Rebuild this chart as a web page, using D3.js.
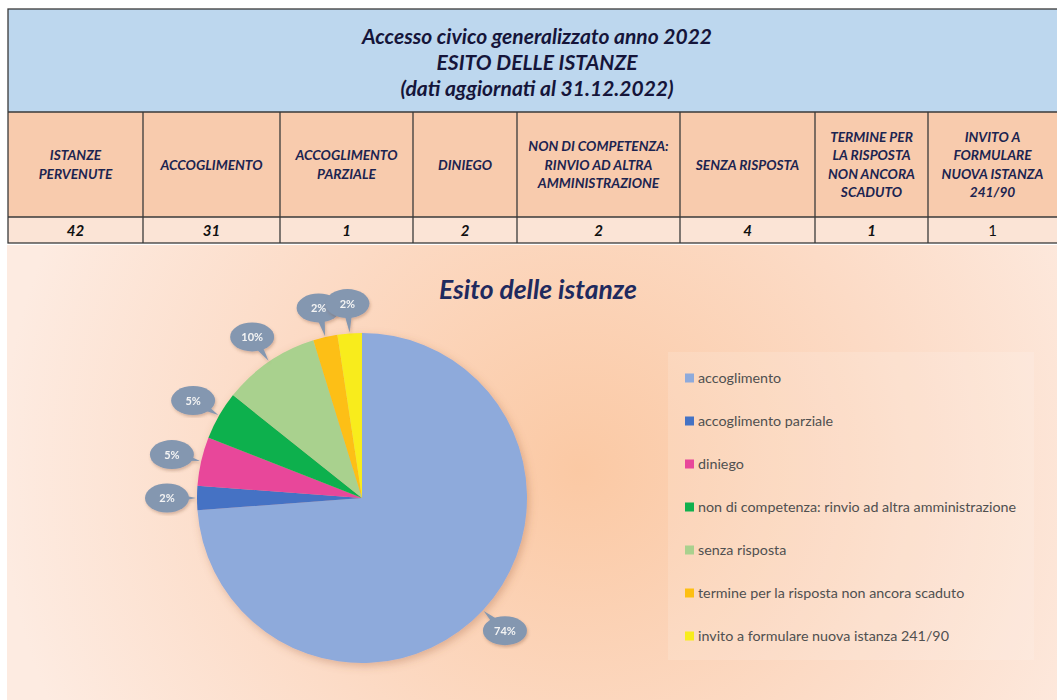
<!DOCTYPE html>
<html>
<head>
<meta charset="utf-8">
<script src="https://cdn.jsdelivr.net/npm/d3@7"></script>
<style>
  body { margin: 0; background: #ffffff; }
  svg { display: block; font-family: Lato, 'Open Sans', sans-serif; }
</style>
</head>
<body>
<svg id="chart" width="1057" height="700"></svg>
<script>
// table content
const titleLines = [
  'Accesso civico generalizzato anno 2022',
  'ESITO DELLE ISTANZE',
  '(dati aggiornati al 31.12.2022)',
];
const columnHeaders = [
  ['ISTANZE', 'PERVENUTE'],
  ['ACCOGLIMENTO'],
  ['ACCOGLIMENTO', 'PARZIALE'],
  ['DINIEGO'],
  ['NON DI COMPETENZA:', 'RINVIO AD ALTRA', 'AMMINISTRAZIONE'],
  ['SENZA RISPOSTA'],
  ['TERMINE PER', 'LA RISPOSTA', 'NON ANCORA', 'SCADUTO'],
  ['INVITO A', 'FORMULARE', 'NUOVA ISTANZA', '241/90'],
];
const columnValues = [42, 31, 1, 2, 2, 4, 1, 1];

// pie content
const categories = [
  'accoglimento',
  'accoglimento parziale',
  'diniego',
  'non di competenza: rinvio ad altra amministrazione',
  'senza risposta',
  'termine per la risposta non ancora scaduto',
  'invito a formulare nuova istanza 241/90',
];
const counts = [31, 1, 2, 2, 4, 1, 1];
const colors = ['#8eaadb', '#4472c4', '#e8479a', '#10b04e', '#a9d18e', '#fdbf12', '#f8ec1c'];

const svg = d3.select('#chart');
const defs = svg.append('defs');

// background gradient for the chart area
const bg = defs.append('radialGradient')
  .attr('id', 'bg-grad')
  .attr('gradientUnits', 'userSpaceOnUse')
  .attr('cx', 580).attr('cy', 470).attr('r', 580);
bg.append('stop').attr('offset', '0%').attr('stop-color', '#fbc9a4');
bg.append('stop').attr('offset', '55%').attr('stop-color', '#fcdbc6');
bg.append('stop').attr('offset', '100%').attr('stop-color', '#fdebe1');

const shadow = defs.append('filter')
  .attr('id', 'pie-shadow')
  .attr('x', '-20%').attr('y', '-20%')
  .attr('width', '140%').attr('height', '140%');
shadow.append('feDropShadow')
  .attr('dx', 2).attr('dy', 3)
  .attr('stdDeviation', 4)
  .attr('flood-color', '#a0603a')
  .attr('flood-opacity', 0.35);

const bubbleShadow = defs.append('filter').attr('id', 'bubble-shadow');
bubbleShadow.append('feDropShadow')
  .attr('dx', 1).attr('dy', 2)
  .attr('stdDeviation', 1.5)
  .attr('flood-color', '#7a4a30')
  .attr('flood-opacity', 0.3);

// ---- table ----
const colEdges = [8, 143, 280, 413, 517, 680, 815, 928, 1062];
const rowEdges = [9, 112, 217, 243];
const textColor = '#1c2450';

const table = svg.append('g');

table.append('rect')
  .attr('x', colEdges[0]).attr('y', rowEdges[0])
  .attr('width', colEdges[8] - colEdges[0]).attr('height', rowEdges[1] - rowEdges[0])
  .attr('fill', '#bdd7ee');

table.selectAll('text.title')
  .data(titleLines)
  .join('text')
  .attr('class', 'title')
  .attr('x', 537)
  .attr('y', (d, i) => 44 + i * 26)
  .attr('text-anchor', 'middle')
  .attr('font-size', 21)
  .attr('font-weight', 'bold')
  .attr('font-style', 'italic')
  .attr('fill', '#15153a')
  .text((d) => d);

const cols = d3.range(columnHeaders.length).map((i) => ({
  x0: colEdges[i],
  x1: colEdges[i + 1],
  header: columnHeaders[i],
  value: columnValues[i],
  last: i === columnHeaders.length - 1,
}));

const colG = table.selectAll('g.col')
  .data(cols)
  .join('g')
  .attr('class', 'col');

colG.append('rect')
  .attr('x', (d) => d.x0).attr('y', rowEdges[1])
  .attr('width', (d) => d.x1 - d.x0).attr('height', rowEdges[2] - rowEdges[1])
  .attr('fill', '#f8cbad');

colG.append('rect')
  .attr('x', (d) => d.x0).attr('y', rowEdges[2])
  .attr('width', (d) => d.x1 - d.x0).attr('height', rowEdges[3] - rowEdges[2])
  .attr('fill', '#fbe4d6');

colG.each(function (d) {
  const g = d3.select(this);
  const cx = (d.x0 + Math.min(d.x1, 1057)) / 2;
  const lh = 18.5;
  const mid = (rowEdges[1] + rowEdges[2]) / 2;
  g.selectAll('text.head')
    .data(d.header)
    .join('text')
    .attr('class', 'head')
    .attr('x', cx)
    .attr('y', (t, i) => mid + (i - (d.header.length - 1) / 2) * lh + 5)
    .attr('text-anchor', 'middle')
    .attr('font-size', 13.7)
    .attr('font-weight', 'bold')
    .attr('font-style', 'italic')
    .attr('fill', textColor)
    .text((t) => t);
  g.append('text')
    .attr('x', cx)
    .attr('y', rowEdges[2] + 18.5)
    .attr('text-anchor', 'middle')
    .attr('font-size', 15)
    .attr('font-weight', d.last ? 'normal' : 'bold')
    .attr('font-style', d.last ? 'normal' : 'italic')
    .attr('fill', '#111111')
    .text(d.value);
});

// grid lines
const lineColor = '#3a3a3a';
table.append('rect')
  .attr('x', colEdges[0]).attr('y', rowEdges[0])
  .attr('width', colEdges[8] - colEdges[0]).attr('height', rowEdges[3] - rowEdges[0])
  .attr('fill', 'none').attr('stroke', lineColor).attr('stroke-width', 1.3);
table.selectAll('line.h')
  .data(rowEdges.slice(1, 3))
  .join('line')
  .attr('x1', colEdges[0]).attr('x2', colEdges[8])
  .attr('y1', (d) => d).attr('y2', (d) => d)
  .attr('stroke', lineColor).attr('stroke-width', 1.3);
table.selectAll('line.v')
  .data(colEdges.slice(1, 8))
  .join('line')
  .attr('x1', (d) => d).attr('x2', (d) => d)
  .attr('y1', rowEdges[1]).attr('y2', rowEdges[3])
  .attr('stroke', lineColor).attr('stroke-width', 1.3);

// ---- chart area ----
svg.append('rect')
  .attr('x', 7).attr('y', 245)
  .attr('width', 1050).attr('height', 455)
  .attr('fill', 'url(#bg-grad)');

// lighter legend panel
svg.append('rect')
  .attr('x', 668).attr('y', 352)
  .attr('width', 366).attr('height', 308)
  .attr('fill', '#ffffff').attr('fill-opacity', 0.14);

svg.append('text')
  .attr('x', 538).attr('y', 299)
  .attr('text-anchor', 'middle')
  .attr('font-size', 26.5)
  .attr('font-weight', 'bold')
  .attr('font-style', 'italic')
  .attr('fill', '#1f2a5e')
  .text('Esito delle istanze');

const cx = 362;
const cy = 498;
const radius = 165;
const total = d3.sum(counts);
const pctFmt = d3.format('.0%');

const pieData = d3.pie().sort(null)(counts);
const arc = d3.arc().innerRadius(0).outerRadius(radius);

const pieG = svg.append('g').attr('transform', `translate(${cx},${cy})`);
pieG.append('g')
  .attr('filter', 'url(#pie-shadow)')
  .selectAll('path')
  .data(pieData)
  .join('path')
  .attr('d', arc)
  .attr('fill', (d, i) => colors[i]);

// callout bubbles
const bw = 44;
const bh = 29;
const labelR = radius + 30;
const labels = pieG.append('g')
  .selectAll('g')
  .data(pieData)
  .join('g')
  .attr('filter', 'url(#bubble-shadow)');

labels.each(function (d) {
  const a = (d.startAngle + d.endAngle) / 2;
  const dx = Math.sin(a);
  const dy = -Math.cos(a);
  const tip = [dx * (radius + 1), dy * (radius + 1)];
  const c = [dx * labelR, dy * labelR];
  const g = d3.select(this);
  // pointer
  const px = -dy;
  const py = dx;
  g.append('path')
    .attr('d', `M${tip[0]},${tip[1]}L${c[0] + px * 6},${c[1] + py * 6}L${c[0] - px * 6},${c[1] - py * 6}Z`)
    .attr('fill', '#8497b0');
  g.append('ellipse')
    .attr('cx', c[0]).attr('cy', c[1])
    .attr('rx', bw / 2).attr('ry', bh / 2)
    .attr('fill', '#8497b0');
  g.append('text')
    .attr('x', c[0]).attr('y', c[1] + 4)
    .attr('text-anchor', 'middle')
    .attr('font-size', 11)
    .attr('font-weight', 'bold')
    .attr('fill', '#f4f4f4')
    .text(pctFmt(d.data / total));
});

// legend
const legend = svg.append('g')
  .selectAll('g')
  .data(categories)
  .join('g')
  .attr('transform', (d, i) => `translate(685,${378 + i * 43})`);
legend.append('rect')
  .attr('x', 0).attr('y', -4.5)
  .attr('width', 9).attr('height', 9)
  .attr('fill', (d, i) => colors[i]);
legend.append('text')
  .attr('x', 13).attr('y', 5)
  .attr('font-size', 14.3)
  .attr('fill', '#505050')
  .text((d) => d);
</script>
</body>
</html>
